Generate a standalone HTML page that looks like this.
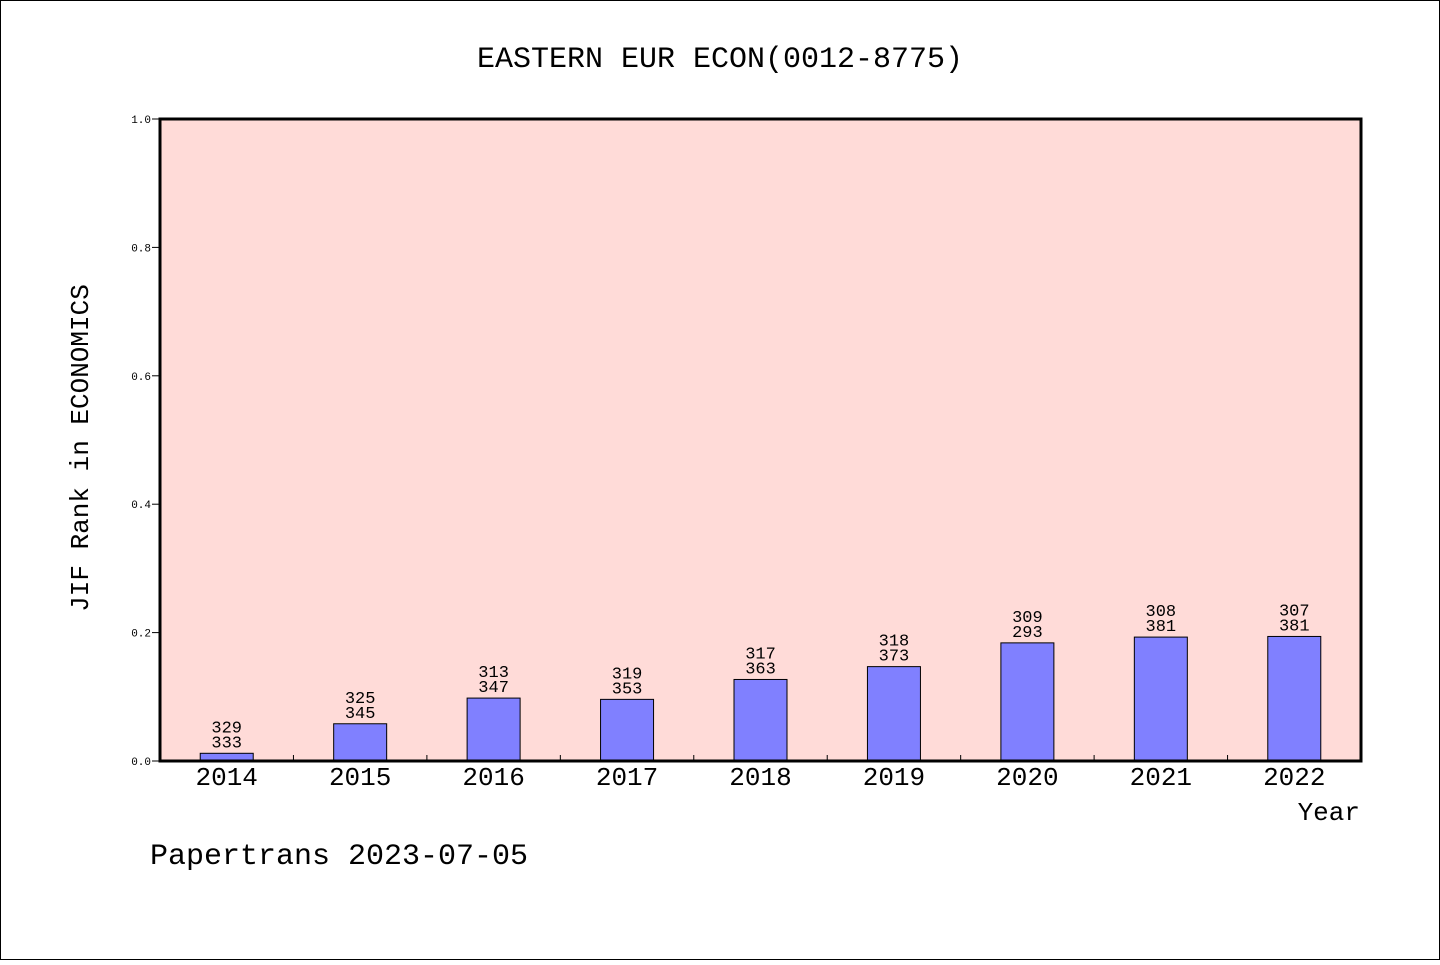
<!DOCTYPE html>
<html><head><meta charset="utf-8"><style>
body{margin:0;background:#fff}
svg text{font-family:"WenQuanYi Zen Hei Mono","Liberation Mono",monospace;fill:#000}
</style></head><body>
<svg width="1440" height="960" viewBox="0 0 1440 960">
<rect x="0.5" y="0.5" width="1439" height="959" fill="#fff" stroke="#000"/>
<text x="720" y="67" font-size="30" text-anchor="middle">EASTERN EUR ECON(0012-8775)</text>
<rect x="160" y="119" width="1201" height="642" fill="#ffdbd8"/>
<g id="ticks"></g>
<g id="bars"></g>
<rect x="160" y="119" width="1201" height="642" fill="none" stroke="#000" stroke-width="3"/>
<text transform="translate(88,448) rotate(-90)" font-size="26" text-anchor="middle">JIF Rank in ECONOMICS</text>
<text x="1360" y="820" font-size="26" text-anchor="end">Year</text>
<text x="150" y="864" font-size="30">Papertrans 2023-07-05</text>
</svg>
<script>
const years=["2014","2015","2016","2017","2018","2019","2020","2021","2022"];
const ranks=[329,325,313,319,317,318,309,308,307];
const totals=[333,345,347,353,363,373,293,381,381];
const values=[0.012,0.058,0.098,0.096,0.127,0.147,0.184,0.193,0.194];
const yTicks=[0,0.2,0.4,0.6,0.8,1.0];
const NS="http://www.w3.org/2000/svg";
const X0=160,W=1201,Y0=761,H=642;
const step=W/years.length;
const yS=v=>Y0-v*H;
function mk(t,a,p){const e=document.createElementNS(NS,t);for(const k in a)e.setAttribute(k,a[k]);p.appendChild(e);return e;}
const tg=document.getElementById('ticks'),bg=document.getElementById('bars');
yTicks.forEach(v=>{
 const l=mk('line',{x1:152,x2:160,y1:yS(v),y2:yS(v),stroke:'#000'},tg);
 
 
 const t=mk('text',{x:151,y:yS(v)+4,'font-size':11,'text-anchor':'end'},tg);
 
 
 t.textContent=v.toFixed(1);
});
for(let i=1;i<years.length;i++){
 const l=mk('line',{x1:X0+i*step,x2:X0+i*step,y1:Y0,y2:Y0-6,stroke:'#000'},tg);
 
 
}
years.forEach((y,i)=>{
 const cx=X0+step*(i+0.5),v=values[i];
 const r=mk('rect',{x:cx-26.5,y:yS(v),width:53,height:Y0-yS(v),fill:'#8080ff',stroke:'#000','stroke-width':1},bg);
 
 
 const t1=mk('text',{x:cx,y:yS(v)-21,'font-size':17,'text-anchor':'middle'},bg);
 
 
 t1.textContent=ranks[i];
 const t2=mk('text',{x:cx,y:yS(v)-6,'font-size':17,'text-anchor':'middle'},bg);
 
 
 t2.textContent=totals[i];
 const xl=mk('text',{x:cx,y:785,'font-size':26,'text-anchor':'middle'},bg);
 
 
 xl.textContent=y;
});
</script>
</body></html>
